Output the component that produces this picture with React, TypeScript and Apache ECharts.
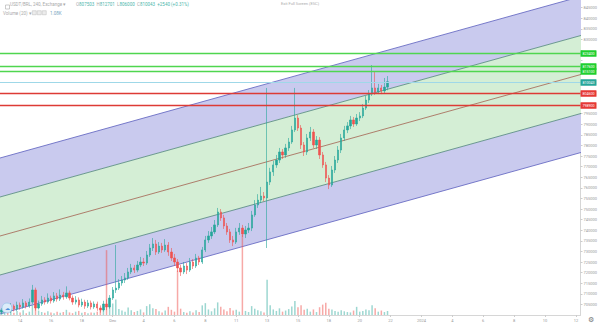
import React, { useEffect, useRef } from "react";
import * as echarts from "echarts";

// ---------- data ----------
const SLOT_COUNT = 188; // category slots on the time axis (data + empty future)
const TIME_LABELS = ["14", "16", "18", "Dec", "4", "6", "8", "11", "13", "15", "18", "20", "22", "2024", "4", "6", "8", "10", "12"];
const LABEL_FIRST = 6;
const LABEL_EVERY = 10;

// [open, close, low, high]
const CANDLES: number[][] = [
  [701400, 702400, 700600, 703300], [702400, 703300, 701500, 704500], [703300, 701900, 700800, 704200], [701900, 704200, 701000, 705600],
  [704200, 702800, 701700, 705000], [702800, 704700, 701900, 706300], [704700, 703800, 702500, 705900], [703800, 705700, 703000, 707500],
  [705700, 704200, 703100, 706600], [704200, 706100, 703400, 707800], [706100, 711800, 705200, 714200], [711800, 703300, 702100, 712900],
  [703300, 705200, 702600, 706800], [705200, 707100, 704300, 709000], [707100, 706100, 704900, 708400], [706100, 708000, 705300, 710200],
  [708000, 706600, 705400, 709100], [706600, 709000, 705800, 710800], [709000, 707500, 706300, 710400], [707500, 709400, 706600, 712100],
  [709400, 708500, 707200, 710900], [708500, 710400, 707600, 713500], [710400, 708000, 706900, 711500], [708000, 706100, 704800, 709200],
  [706100, 707100, 705000, 708900], [707100, 704700, 703600, 708300], [704700, 706100, 703800, 707700], [706100, 704200, 702900, 707200],
  [704200, 705700, 703300, 707100], [705700, 703800, 702600, 706800], [703800, 705200, 702900, 706400], [705200, 703300, 702000, 706300],
  [703300, 702400, 701100, 704500], [702400, 705200, 701600, 706700], [705200, 703800, 702300, 707300], [703800, 708000, 703000, 709400],
  [708000, 711800, 707100, 713200], [711800, 712700, 710400, 733000], [712700, 715100, 711800, 716900], [715100, 716500, 713800, 718400],
  [716500, 717500, 715100, 719800], [717500, 720300, 716600, 722200], [720300, 722200, 719300, 724100], [722200, 721200, 719800, 723600],
  [721200, 723600, 720200, 725500], [723600, 725000, 722600, 727400], [725000, 724500, 723100, 726900], [724500, 728300, 723600, 730200],
  [728300, 731600, 727400, 733500], [731600, 733500, 730200, 736300], [733500, 729700, 728300, 735400], [729700, 732500, 728800, 734400],
  [732500, 730700, 729300, 734000], [730700, 733000, 729800, 735800], [733000, 729700, 727900, 734400], [729700, 726900, 725500, 731600],
  [726900, 725000, 723100, 728800], [725000, 722200, 720300, 726400], [722200, 720300, 718400, 723600], [720300, 723100, 719300, 725000],
  [723100, 721200, 719300, 724500], [721200, 725000, 720300, 726900], [725000, 723100, 721700, 726400], [723100, 726900, 722200, 728800],
  [726900, 725000, 723600, 727900], [725000, 730700, 724100, 732100], [730700, 735400, 729700, 737300], [735400, 737300, 734000, 739600],
  [737300, 739200, 735900, 741500], [739200, 742500, 738200, 744800], [742500, 748600, 741500, 750500], [748600, 745800, 744400, 750000],
  [745800, 742000, 740600, 747200], [742000, 739200, 737800, 743400], [739200, 735400, 734000, 740600], [735400, 734400, 732500, 737300],
  [734400, 739200, 733500, 741100], [739200, 741000, 737800, 743400], [741000, 738200, 736800, 742500], [738200, 740100, 736300, 742000],
  [740100, 741000, 738700, 743400], [741000, 747200, 739600, 749100], [747200, 751900, 746300, 754200], [751900, 754200, 750500, 757000],
  [754200, 756100, 752800, 760400], [756100, 755200, 753700, 758000], [755200, 762700, 731600, 807100], [762700, 767500, 761300, 769400],
  [767500, 770800, 765600, 772700], [770800, 773100, 769400, 775500], [773100, 776900, 771700, 778800], [776900, 775500, 773600, 778300],
  [775500, 778800, 774100, 780700], [778800, 781600, 777400, 783500], [781600, 787300, 780700, 789200], [787300, 792900, 786300, 807100],
  [792900, 788200, 786800, 794300], [788200, 780200, 778300, 789600], [780200, 776900, 775000, 781600], [776900, 783500, 775500, 785400],
  [783500, 786300, 782100, 788700], [786300, 780200, 778800, 787700], [780200, 782500, 778300, 784400], [782500, 775500, 773600, 783900],
  [775500, 770800, 769400, 776900], [770800, 764600, 762700, 772200], [764600, 761300, 759400, 766000], [761300, 768400, 760400, 770300],
  [768400, 773100, 767000, 775000], [773100, 777800, 771700, 779700], [777800, 783500, 776400, 785400], [783500, 787300, 782100, 789200],
  [787300, 789200, 785800, 791000], [789200, 792000, 787700, 793900], [792000, 790100, 788700, 793400], [790100, 792900, 789200, 794800],
  [792900, 793900, 791500, 795700], [793900, 797600, 792900, 799500], [797600, 801400, 796700, 803300], [801400, 804200, 800000, 806100],
  [804200, 807100, 803300, 817900], [807100, 805200, 803800, 814600], [805200, 807100, 804200, 809000], [807100, 805700, 804200, 808500],
  [805700, 807503, 804700, 811800], [807503, 810043, 806000, 812701],
];

const VOLUMES = [
  1200, 800, 1500, 900, 600, 1100, 700, 1300, 500, 900,
  2600, 3000, 1200, 800, 600, 1000, 700, 500, 900, 600,
  800, 1400, 700, 500, 900, 1100, 600, 800, 500, 700,
  600, 900, 1400, 1800, 17500, 2200, 3100, 4200, 1600, 1200,
  900, 2000, 1300, 800, 1100, 1500, 700, 2400, 2900, 1800,
  1600, 1000, 700, 1200, 2200, 1400, 900, 12000, 1700, 800,
  600, 1000, 700, 1300, 800, 2600, 3200, 1500, 1000, 1800,
  3400, 2200, 1500, 1000, 1900, 1200, 1400, 900, 21600, 1100,
  800, 2400, 1700, 1300, 1000, 700, 9500, 2600, 1500, 1100,
  1800, 900, 1200, 1600, 2300, 3800, 2100, 2600, 1400, 1700,
  900, 1500, 800, 2100, 2800, 3300, 1700, 1500, 1100, 900,
  1300, 1000, 800, 700, 1200, 2200, 900, 1100, 1500, 1300,
  2600, 1800, 900, 1200, 800, 1080,
];

// regression channel: 5 parallel lines (outer upper, upper, middle, lower, outer lower)
const CHANNEL_X = [-1, 188];
const CHANNEL_START = [773850, 755460, 737060, 718670, 700270];
const CHANNEL_END = [850400, 832000, 813600, 795200, 776800];

// horizontal price levels (top to bottom): three green, last price, two red
const LEVELS = [823400, 817600, 815100, 810043, 804600, 798900];
const LEVEL_KIND = ["green", "green", "green", "last", "red", "red"];

const Y_MIN = 700000;
const Y_MAX = 848586;
const Y_STEP = 5000;
const VOL_MAX = 85000;

const HEADER_SYMBOL = "USDT/BRL, 240, Exchange ▾";
const HEADER_OHLC = [
  ["O", "807503"],
  ["H", "812701"],
  ["L", "806000"],
  ["C", "810043"],
];
const HEADER_CHANGE = "+2540 (+0.31%)";
const VOLUME_TITLE = "Volume (20) ▾";
const VOLUME_VALUE = "1.08K";

// ---------- styles ----------
const UP = "#26a69a";
const DOWN = "#ef5350";
const BAND_FILLS = ["#c9caee", "#d4eed5", "#d4eed5", "#c9caee"];
const LINE_COLORS = ["#6a6dc4", "#5e8f86", "#a0604c", "#5e8f86", "#6a6dc4"];
const LEVEL_STYLE: Record<string, { line: string; box: string; width: number }> = {
  green: { line: "#4fd64f", box: "#1fcf2f", width: 1.3 },
  last: { line: "#9fd8e8", box: "#26a69a", width: 1 },
  red: { line: "#dd3b35", box: "#e53935", width: 1.3 },
};
const FONT = "Roboto, 'Noto Sans', sans-serif";

export default function App() {
  const ref = useRef<HTMLDivElement>(null);

  useEffect(() => {
    if (!ref.current) return;
    const chart = echarts.init(ref.current, undefined, { renderer: "svg" });

    const categories = Array.from({ length: SLOT_COUNT }, (_, i) => "t" + i);
    const isLabel = (i: number) => i >= LABEL_FIRST && (i - LABEL_FIRST) % LABEL_EVERY === 0;

    const bandData = [0, 1, 2, 3].map((k) => [
      CHANNEL_X[0], CHANNEL_X[1], CHANNEL_START[k], CHANNEL_START[k + 1], CHANNEL_END[k], CHANNEL_END[k + 1],
    ]);
    const lineData = [0, 1, 2, 3, 4].map((k) => [CHANNEL_X[0], CHANNEL_X[1], CHANNEL_START[k], CHANNEL_END[k]]);

    const volumeData = VOLUMES.map((v, i) => ({
      value: v,
      itemStyle: {
        color: CANDLES[i][1] >= CANDLES[i][0] ? "rgba(38,166,154,0.45)" : "rgba(239,83,80,0.5)",
      },
    }));

    const levelData = LEVELS.map((v) => [0, v]);

    const richHeader: any = {
      l: { fill: "#aaa", fontSize: 4.5, fontFamily: FONT } as any,
      v: { fill: "#4db6ac", fontSize: 4.5, fontFamily: FONT } as any,
    };
    const ohlcText =
      HEADER_OHLC.map(([k, v]) => `{l|${k}}{v|${v}}`).join("  ") + `  {v|${HEADER_CHANGE}}`;

    chart.setOption({
      animation: false,
      backgroundColor: "#ffffff",
      grid: { left: 0, right: 17, top: 0, bottom: 9, containLabel: false },
      xAxis: {
        type: "category",
        data: categories,
        boundaryGap: true,
        axisLine: { lineStyle: { color: "#d6d6d6", width: 1 } },
        axisTick: { show: true, alignWithLabel: true, interval: (i: number) => isLabel(i), length: 2, lineStyle: { color: "#ccc" } },
        axisLabel: {
          interval: (i: number) => isLabel(i),
          formatter: (_v: string, i: number) => TIME_LABELS[(i - LABEL_FIRST) / LABEL_EVERY] ?? "",
          fontSize: 4,
          color: "#999",
          margin: 3,
          fontFamily: FONT,
        },
        splitLine: { show: false },
      },
      yAxis: [
        {
          type: "value",
          position: "right",
          min: Y_MIN,
          max: Y_MAX,
          interval: Y_STEP,
          splitLine: { show: false },
          axisLine: { show: true, lineStyle: { color: "#d6d6d6", width: 1 } },
          axisTick: { show: true, length: 2, lineStyle: { color: "#ccc" } },
          axisLabel: {
            fontSize: 4,
            color: "#999",
            margin: 3,
            showMaxLabel: false,
            showMinLabel: false,
            fontFamily: FONT,
            // price tags cover the scale labels they sit on, as in the original
            formatter: (v: number) => (LEVELS.some((L) => Math.abs(L - v) < 2600) ? "" : String(v)),
          },
        },
        { type: "value", show: false, min: 0, max: VOL_MAX },
      ],
      series: [
        {
          type: "custom",
          name: "channelBands",
          clip: true,
          z: 1,
          silent: true,
          data: bandData,
          encode: { x: [0, 1], y: [2, 3, 4, 5] },
          renderItem: (params: any, api: any) => {
            const xs = api.value(0);
            const xe = api.value(1);
            const p1 = api.coord([xs, api.value(2)]);
            const p2 = api.coord([xe, api.value(4)]);
            const p3 = api.coord([xe, api.value(5)]);
            const p4 = api.coord([xs, api.value(3)]);
            return {
              type: "polygon",
              shape: { points: [p1, p2, p3, p4] },
              style: { fill: BAND_FILLS[params.dataIndex], stroke: "none" },
            };
          },
        },
        {
          type: "custom",
          name: "channelLines",
          clip: true,
          z: 2,
          silent: true,
          data: lineData,
          encode: { x: [0, 1], y: [2, 3] },
          renderItem: (params: any, api: any) => {
            const a = api.coord([api.value(0), api.value(2)]);
            const b = api.coord([api.value(1), api.value(3)]);
            return {
              type: "line",
              shape: { x1: a[0], y1: a[1], x2: b[0], y2: b[1] },
              style: { stroke: LINE_COLORS[params.dataIndex], lineWidth: params.dataIndex === 2 ? 0.8 : 0.9 },
            };
          },
        },
        {
          type: "bar",
          name: "Volume",
          yAxisIndex: 1,
          z: 3,
          barWidth: 1.5,
          data: volumeData,
        },
        {
          type: "candlestick",
          name: "USDT/BRL",
          z: 4,
          barWidth: 1.8,
          data: CANDLES,
          itemStyle: { color: UP, color0: DOWN, borderColor: UP, borderColor0: DOWN, borderWidth: 0.6 },
        },
        {
          type: "custom",
          name: "levels",
          clip: false,
          z: 6,
          silent: true,
          data: levelData,
          encode: { x: 0, y: 1 },
          renderItem: (params: any, api: any) => {
            const value = api.value(1);
            const st = LEVEL_STYLE[LEVEL_KIND[params.dataIndex]];
            const cs = params.coordSys;
            const y = Math.round(api.coord([0, value])[1]) + 0.5;
            const right = cs.x + cs.width;
            return {
              type: "group",
              children: [
                {
                  type: "line",
                  shape: { x1: cs.x, y1: y, x2: right, y2: y },
                  style: { stroke: st.line, lineWidth: st.width },
                },
                {
                  type: "rect",
                  shape: { x: right, y: y - 3.3, width: 16, height: 6.6, r: 0.5 },
                  style: { fill: st.box },
                },
                {
                  type: "text",
                  x: right + 8,
                  y: y,
                  style: {
                    text: String(value),
                    fill: "#fff",
                    fontSize: 3.6,
                    fontFamily: FONT,
                    align: "center",
                    verticalAlign: "middle",
                  },
                },
              ],
            };
          },
        },
      ],
      graphic: [
        { type: "rect", left: 3, top: 2.5, shape: { width: 4, height: 4 }, style: { fill: "none", stroke: "#aaa", lineWidth: 0.6 } },
        { type: "text", left: 10, top: 2.3, style: { text: HEADER_SYMBOL, fontSize: 4.5, fill: "#aaa", fontFamily: FONT } },
        { type: "text", left: 76, top: 2.3, style: { text: ohlcText, rich: richHeader, fontSize: 4.5, fontFamily: FONT } },
        { type: "text", left: 3, top: 10.5, style: { text: VOLUME_TITLE, fontSize: 4.5, fill: "#aaa", fontFamily: FONT } },
        { type: "rect", left: 32, top: 10.5, shape: { width: 4, height: 4 }, style: { fill: "#ececec", stroke: "#bbb", lineWidth: 0.5 } },
        { type: "rect", left: 37, top: 10.5, shape: { width: 4, height: 4 }, style: { fill: "#ececec", stroke: "#bbb", lineWidth: 0.5 } },
        { type: "rect", left: 42, top: 10.5, shape: { width: 4, height: 4 }, style: { fill: "#ececec", stroke: "#bbb", lineWidth: 0.5 } },
        { type: "text", left: 50, top: 10.5, style: { text: VOLUME_VALUE, fontSize: 4.5, fill: "#7aa6c2", fontFamily: FONT } },
        { type: "text", x: 300, y: 1.5, style: { text: "Exit Full Screen (ESC)", fontSize: 4, fill: "#aaa", align: "center", fontFamily: FONT } },
        { type: "circle", shape: { cx: 7, cy: 308, r: 5 }, style: { fill: "#dcecf9", stroke: "#9cc8ea", lineWidth: 0.8 }, z: 10 },
        { type: "text", x: 7, y: 308, style: { text: "☁", fontSize: 5, fill: "#4a90d9", align: "center", verticalAlign: "middle" }, z: 11 },
        { type: "text", x: 591, y: 319, style: { text: "⚙", fontSize: 7, fill: "#777", align: "center", verticalAlign: "middle" } },
      ],
    });

    return () => chart.dispose();
  }, []);

  return (
    <div
      ref={ref}
      style={{ position: "fixed", left: 0, top: 0, width: 600, height: 324, background: "#fff" }}
    />
  );
}
